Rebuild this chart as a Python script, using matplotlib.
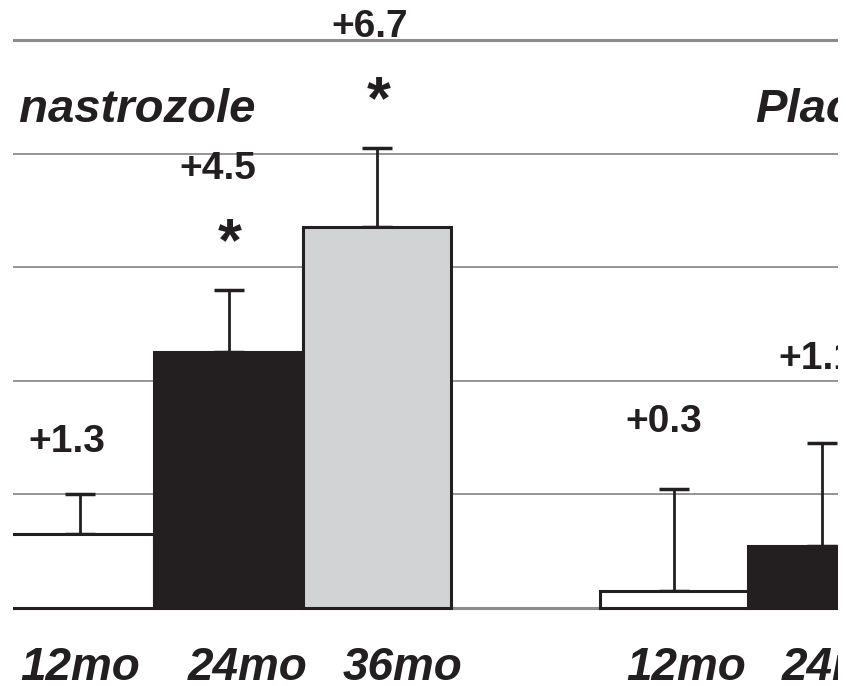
import matplotlib.pyplot as plt
from matplotlib.patches import Rectangle

# Mean change per group (bar height) and upper error (SE)
groups = ["Anastrozole", "Placebo"]
periods = ["12mo", "24mo", "36mo"]
anastrozole_vals = [1.3, 4.5, 6.7]
anastrozole_err = [0.7, 1.1, 1.4]
placebo_vals = [0.3, 1.1]
placebo_err = [1.8, 1.8]
signif = [False, True, True]
grid_levels = [0, 2, 4, 6, 8, 10]

ink = "#231f20"
bar_colors = ["white", ink, "#d1d3d4"]

plt.rcParams['font.family'] = ['Liberation Sans', 'DejaVu Sans']

fig = plt.figure(figsize=(8.46, 6.86), dpi=100)
ax = fig.add_axes([13 / 846, 0, 825 / 846, 1])
ax.set_xlim(-0.4512, 5.1044)
ax.set_ylim(-1.373, 10.704)
ax.axis("off")

# horizontal grid
for g in grid_levels:
    ax.axhline(g, color="#8c8c8c", lw=2.2 if g in (0, 10) else 1.3, zorder=0)

x_a = [0, 1, 2]
x_p = [4, 5]

ax.bar(x_a, anastrozole_vals, width=1.0, color=bar_colors, edgecolor=ink, lw=2.2, zorder=2)
ax.bar(x_p, placebo_vals, width=1.0, color=bar_colors[:2], edgecolor=ink, lw=2.2, zorder=2)

ax.errorbar(x_a, anastrozole_vals, yerr=[[0] * 3, anastrozole_err], fmt="none",
            ecolor=ink, elinewidth=2, capsize=10.5, capthick=2.5, zorder=1)
ax.errorbar(x_p, placebo_vals, yerr=[[0] * 2, placebo_err], fmt="none",
            ecolor=ink, elinewidth=2, capsize=10.5, capthick=2.5, zorder=1)

num_kw = dict(fontsize=28, fontweight="bold", color=ink, ha="center", va="baseline", clip_on=True)

# value labels
a_lab_dx = [-0.09, -0.07, -0.05]
for i, (v, e) in enumerate(zip(anastrozole_vals, anastrozole_err)):
    top = v + e
    if signif[i]:
        ax.text(x_a[i] + 0.01, top + 0.8, "*", fontsize=44, fontweight="bold",
                color=ink, ha="center", va="center", clip_on=True)
        ax.text(x_a[i] + a_lab_dx[i], top + 1.95, f"+{v}", **num_kw)
    else:
        ax.text(x_a[i] + a_lab_dx[i], top + 0.75, f"+{v}", **num_kw)

p_lab_dx = [-0.07, -0.04]
p_lab_y = [3.1, 4.2]
for i, v in enumerate(placebo_vals):
    ax.text(x_p[i] + p_lab_dx[i], p_lab_y[i], f"+{v}", **num_kw)

# group titles (picture is cropped at the left, first letter falls outside)
title_kw = dict(fontsize=34, fontweight="bold", style="italic", color=ink, va="baseline")
crop = Rectangle((-0.425, -2), 6, 14, transform=ax.transData, visible=False)
ax.add_patch(crop)
t1 = ax.text(1.19, 8.55, groups[0], ha="right", clip_on=True, **title_kw)
t1.set_clip_path(crop)
ax.text(4.545, 8.55, groups[1], ha="left", clip_on=True, **title_kw)

# period labels
lab_kw = dict(fontsize=33, fontweight="bold", style="italic", color=ink, ha="center", va="baseline", clip_on=True)
a_tick_dx = [0.0, 0.13, 0.17]
for i, p in enumerate(periods):
    ax.text(x_a[i] + a_tick_dx[i], -1.27, p, **lab_kw)
p_tick_dx = [0.08, 0.13]
for i in range(len(x_p)):
    ax.text(x_p[i] + p_tick_dx[i], -1.27, periods[i], **lab_kw)

fig.savefig("out.png", dpi=100)
